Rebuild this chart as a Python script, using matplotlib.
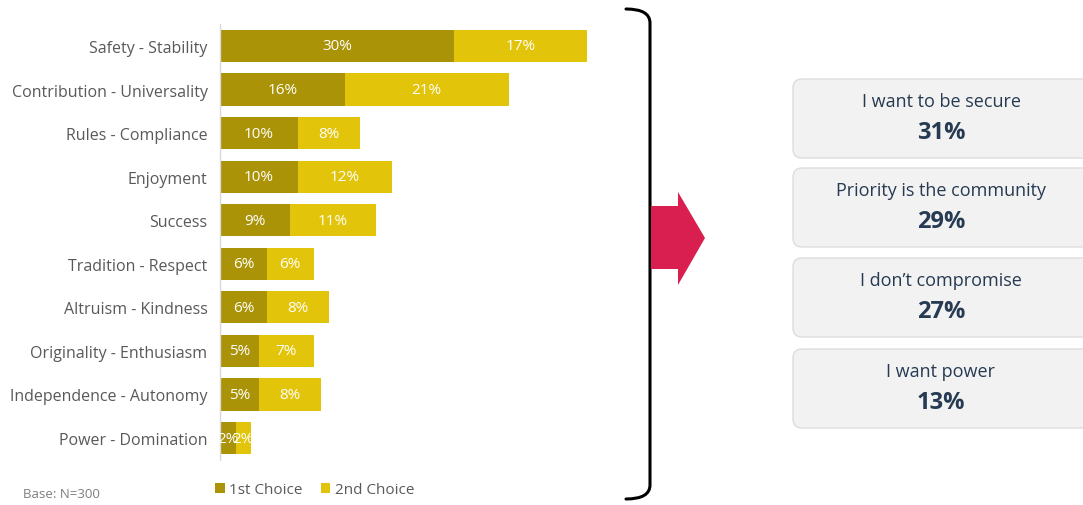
import matplotlib

matplotlib.use("Agg")
import matplotlib.pyplot as plt
from matplotlib.patches import FancyBboxPatch, Polygon, PathPatch
from matplotlib.path import Path as MplPath

plt.rcParams["font.family"] = ["Open Sans", "DejaVu Sans"]

CATEGORIES = [
    "Safety - Stability",
    "Contribution - Universality",
    "Rules - Compliance",
    "Enjoyment",
    "Success",
    "Tradition - Respect",
    "Altruism - Kindness",
    "Originality - Enthusiasm",
    "Independence - Autonomy",
    "Power - Domination",
]
FIRST_CHOICE = [30, 16, 10, 10, 9, 6, 6, 5, 5, 2]
SECOND_CHOICE = [17, 21, 8, 12, 11, 6, 8, 7, 8, 2]
SERIES_NAMES = ["1st Choice", "2nd Choice"]

CALLOUT_TEXT = [
    "I want to be secure",
    "Priority is the community",
    "I don\u2019t compromise",
    "I want power",
]
CALLOUT_VALUES = [31, 29, 27, 13]

DARK_GOLD = "#AB9308"
LIGHT_GOLD = "#E2C40A"
LABEL_GREY = "#595959"
NAVY = "#263A52"
ARROW_RED = "#D81F50"

W, H = 1083, 506
fig = plt.figure(figsize=(W / 100, H / 100), dpi=100)

# stacked bar panel
ax = fig.add_axes([220 / W, 45.2 / H, 390 / W, 435.6 / H])
ypos = list(range(len(CATEGORIES)))
bars1 = ax.barh(ypos, FIRST_CHOICE, height=0.74, color=DARK_GOLD, label=SERIES_NAMES[0])
bars2 = ax.barh(ypos, SECOND_CHOICE, left=FIRST_CHOICE, height=0.74,
                color=LIGHT_GOLD, label=SERIES_NAMES[1])
for vals, lefts in ((FIRST_CHOICE, [0] * len(FIRST_CHOICE)), (SECOND_CHOICE, FIRST_CHOICE)):
    for y, v, l in zip(ypos, vals, lefts):
        ax.text(l + v / 2, y, f"{v}%", ha="center", va="center",
                color="white", fontsize=11)

ax.set_xlim(0, 50)
ax.set_ylim(len(CATEGORIES) - 0.5, -0.5)
ax.set_yticks(ypos)
ax.set_yticklabels(CATEGORIES, fontsize=11.5, color=LABEL_GREY)
ax.tick_params(axis="y", length=0, pad=9)
ax.set_xticks([])
for side in ("top", "right", "bottom"):
    ax.spines[side].set_visible(False)
ax.spines["left"].set_color("#D9D9D9")
ax.spines["left"].set_linewidth(1)

ax.legend(loc="upper left", bbox_to_anchor=(-0.047, -0.02), ncol=2, frameon=False,
          fontsize=11, labelcolor=LABEL_GREY, handlelength=0.6, handleheight=0.6,
          handletextpad=0.3, columnspacing=1.2)

# overlay in pixel coordinates for the bracket, arrow and callouts
ov = fig.add_axes([0, 0, 1, 1], zorder=-1)
ov.set_xlim(0, W)
ov.set_ylim(H, 0)
ov.axis("off")

ov.text(23, 495, "Base: N=300", fontsize=9.5, color="#7F7F7F", va="center")

bracket = MplPath(
    [(626, 10), (650, 10), (650, 24), (650, 486), (650, 500), (626, 500)],
    [MplPath.MOVETO, MplPath.CURVE3, MplPath.CURVE3,
     MplPath.LINETO, MplPath.CURVE3, MplPath.CURVE3],
)
ov.add_patch(PathPatch(bracket, fill=False, lw=2.2, edgecolor="black", capstyle="round"))

ov.add_patch(Polygon(
    [(651, 207), (678, 207), (678, 193), (705, 239), (678, 286), (678, 270), (651, 270)],
    closed=True, facecolor=ARROW_RED, edgecolor="none",
))

box_tops = [80, 169, 259, 350]
for top, text, val in zip(box_tops, CALLOUT_TEXT, CALLOUT_VALUES):
    ov.add_patch(FancyBboxPatch(
        (793, top), 300, 79, boxstyle="round,pad=0,rounding_size=9",
        facecolor="#F2F2F2", edgecolor="#DDDDDD", lw=1,
    ))
    ov.text(941, top + 22, text, ha="center", va="center", fontsize=13, color=NAVY)
    ov.text(941, top + 53, f"{val}%", ha="center", va="center", fontsize=17,
            color=NAVY, fontweight="bold")

fig.savefig("out.png", dpi=100)
